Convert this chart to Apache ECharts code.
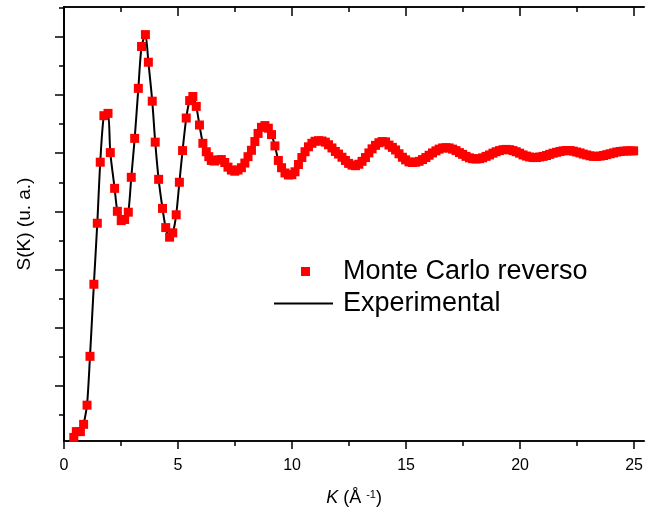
<!DOCTYPE html>
<html>
<head>
<meta charset="utf-8">
<script src="https://cdn.jsdelivr.net/npm/echarts@6/dist/echarts.min.js"></script>
<style>html,body{margin:0;padding:0;background:#fff}#c{width:646px;height:516px}</style>
</head>
<body>
<div id="c"></div>
<script>
// K (1/Å) and S(K)
const mcK = [0.43,0.54,0.72,0.86,1.01,1.14,1.31,1.46,1.59,1.75,1.93,2.03,2.22,2.34,2.51,2.66,2.82,2.95,3.10,3.26,3.40,3.57,3.70,3.87,4.00,4.15,4.32,4.46,4.63,4.77,4.92,5.06,5.20,5.36,5.51,5.65,5.80,5.94,6.09,6.24,6.35,6.46,6.60,
  6.75,6.90,7.05,7.19,7.34,7.49,7.63,7.78,7.93,8.07,8.22,8.37,8.51,8.66,8.81,8.96,9.10,9.25,9.40,9.54,9.69,9.84,9.99,
  10.13,10.28,10.43,10.57,10.72,10.87,11.01,11.16,11.31,11.46,11.60,11.75,11.90,12.04,12.19,12.34,12.48,12.63,12.78,12.93,
  13.07,13.22,13.37,13.51,13.66,13.81,13.95,14.10,14.25,14.40,14.54,14.69,14.84,14.98,15.13,15.28,15.42,15.57,15.72,15.87,
  16.01,16.16,16.31,16.45,16.60,16.75,16.89,17.04,17.19,17.34,17.48,17.63,17.78,17.92,18.07,18.22,18.36,18.51,18.66,18.81,
  18.95,19.10,19.25,19.39,19.54,19.69,19.83,19.98,20.13,20.28,20.42,20.57,20.72,20.86,21.01,21.16,21.30,21.45,21.60,21.75,
  21.89,22.04,22.19,22.33,22.48,22.63,22.77,22.92,23.07,23.22,23.36,23.51,23.66,23.80,23.95,24.10,24.24,24.39,24.54,24.69,24.83,24.98];
const mcS = [0.022,0.042,0.042,0.067,0.133,0.301,0.549,0.759,0.969,1.129,1.137,1.002,0.879,0.800,0.768,0.772,0.797,0.917,1.051,1.223,1.367,1.408,1.313,1.179,1.038,0.910,0.810,0.744,0.711,0.726,0.788,0.900,1.009,1.121,1.181,1.195,1.161,1.097,1.034,1.005,0.988,0.975,0.973,
  0.977,0.978,0.968,0.952,0.942,0.938,0.942,0.950,0.966,0.988,1.010,1.040,1.068,1.089,1.095,1.086,1.064,1.025,0.975,0.950,0.932,0.925,0.926,
  0.936,0.961,0.985,1.005,1.022,1.034,1.041,1.043,1.042,1.038,1.029,1.018,1.006,0.997,0.986,0.975,0.965,0.959,0.957,0.962,
  0.972,0.985,1.001,1.015,1.027,1.036,1.040,1.039,1.028,1.020,1.011,0.998,0.986,0.977,0.970,0.968,0.969,0.972,0.978,0.985,
  0.993,1.001,1.008,1.014,1.018,1.019,1.018,1.014,1.009,1.002,0.996,0.989,0.984,0.981,0.980,0.981,0.984,0.989,0.994,1.000,
  1.005,1.009,1.012,1.013,1.012,1.009,1.005,1.000,0.994,0.990,0.987,0.985,0.985,0.987,0.989,0.992,0.996,1.000,1.003,1.006,
  1.008,1.009,1.009,1.007,1.004,1.001,0.997,0.994,0.991,0.989,0.989,0.990,0.992,0.995,0.998,1.001,1.004,1.006,1.007,1.008,1.008,1.008];
// experimental curve starts at this index of the same grid
const expStart = 3;

const xMajor = [0,5,10,15,20,25];
const xMinor = [2.5,7.5,12.5,17.5,22.5];
const yMajor = [0.2,0.4,0.6,0.8,1.0,1.2,1.4];
const yMinor = [0.1,0.3,0.5,0.7,0.9,1.1,1.3,1.5];

const FONT = '"Liberation Sans", Arial, sans-serif';
const XMIN = 0, XMAX = 25.44, YMIN = 0.0097, YMAX = 1.503;
const axLine = {show: true, lineStyle: {color: '#000', width: 1.5}};

function xAx(pos, vals, len, inside, extra) {
  return Object.assign({
    type: 'value', position: pos, min: XMIN, max: XMAX, interval: 5,
    axisLine: axLine,
    axisTick: {show: true, customValues: vals, length: len, inside: inside, lineStyle: {color: '#000', width: 1.5}},
    axisLabel: {show: false},
    splitLine: {show: false}
  }, extra || {});
}
function yAx(pos, vals, len, inside, extra) {
  return Object.assign({
    type: 'value', position: pos, min: YMIN, max: YMAX,
    axisLine: axLine,
    axisTick: {show: true, customValues: vals, length: len, inside: inside, lineStyle: {color: '#000', width: 1.5}},
    axisLabel: {show: false},
    splitLine: {show: false}
  }, extra || {});
}

const chart = echarts.init(document.getElementById('c'), null, {renderer: 'canvas'});
chart.setOption({
  animation: false,
  backgroundColor: '#fff',
  textStyle: {fontFamily: FONT, color: '#000'},
  grid: {left: 64, right: 1, top: 7, bottom: 75, containLabel: false},
  xAxis: [
    xAx('bottom', xMajor, 8, false, {
      axisLabel: {show: true, customValues: xMajor, fontSize: 16, color: '#000', fontFamily: FONT, margin: 17},
      name: '{it|K} (Å {sup|-1})',
      nameLocation: 'middle', nameGap: 48,
      nameTextStyle: {fontSize: 18, color: '#000', fontFamily: FONT,
        rich: {it: {fontStyle: 'italic', fontSize: 18, fontFamily: FONT, color: '#000'},
               sup: {fontSize: 11, verticalAlign: 'top', fontFamily: FONT, color: '#000'}}}
    }),
    xAx('bottom', xMinor, 5, false),
    xAx('top', xMajor, 9, true),
    xAx('top', xMinor, 5, true)
  ],
  yAxis: [
    yAx('left', yMajor, 9, false, {
      name: 'S(K) (u. a.)', nameLocation: 'middle', nameGap: 30,
      nameTextStyle: {fontSize: 19, color: '#000', fontFamily: FONT}
    }),
    yAx('left', yMinor, 5, false),
    yAx('right', yMajor, 9, true),
    yAx('right', yMinor, 5, true)
  ],
  legend: [
    {data: [{name: 'Monte Carlo reverso', icon: 'path://M0 0H9V9H0Z'}], orient: 'vertical', left: 301, top: 258, padding: 0,
     itemWidth: 59, itemHeight: 9, symbolKeepAspect: true,
     textStyle: {fontSize: 27, color: '#000', fontFamily: FONT, padding: [0,0,0,3]}},
    {data: [{name: 'Experimental', icon: 'path://M0 0H59V2H0Z'}], orient: 'vertical', left: 274, top: 290, padding: 0,
     itemWidth: 59, itemHeight: 2, symbolKeepAspect: true,
     itemStyle: {color: '#000'},
     textStyle: {fontSize: 27, color: '#000', fontFamily: FONT, padding: [0,0,0,5]}}
  ],
  series: [
    {
      name: 'Experimental', type: 'line', xAxisIndex: 0, yAxisIndex: 0,
      data: mcK.slice(expStart).map((k, i) => [k, mcS[i + expStart]]),
      symbol: 'none', smooth: 0.25,
      lineStyle: {color: '#000', width: 2}, itemStyle: {color: '#000'}, z: 2
    },
    {
      name: 'Monte Carlo reverso', type: 'scatter', xAxisIndex: 0, yAxisIndex: 0,
      data: mcK.map((k, i) => [k, mcS[i]]),
      symbol: 'rect', symbolSize: 9,
      itemStyle: {color: '#ff0000', opacity: 1}, z: 3
    }
  ]
});
</script>
</body>
</html>
